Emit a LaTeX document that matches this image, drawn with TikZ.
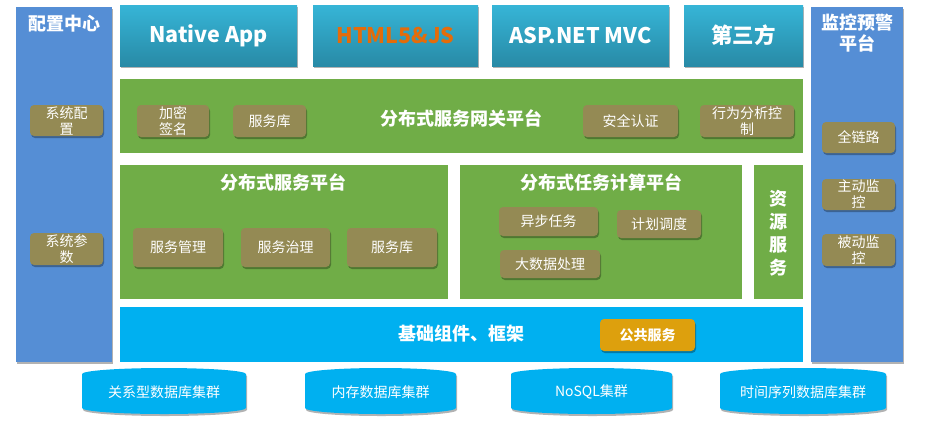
\documentclass[tikz,border=0pt]{standalone}
\usepackage{fontspec}
\setmainfont{Noto Sans CJK SC}
\usetikzlibrary{shadows}

\definecolor{sideblue}{RGB}{85,142,213}
\definecolor{platgreen}{RGB}{112,173,71}
\definecolor{itemolive}{RGB}{148,138,84}
\definecolor{basecyan}{RGB}{0,176,240}
\definecolor{pubamber}{RGB}{221,160,13}
\definecolor{btntop}{RGB}{54,181,215}
\definecolor{btnbot}{RGB}{40,138,166}
\definecolor{htmlorange}{RGB}{228,108,10}

\newcommand*{\xmax}{928}
\newcommand*{\ymax}{432}

\begin{document}
\begin{tikzpicture}
[
	x=1pt,y=-1pt,
	shade/.style={drop shadow={shadow xshift=1pt,shadow yshift=-2pt,opacity=0.3,fill=black}},
	sidecol/.style={rectangle,fill=sideblue,inner sep=0pt,shade},
	topbtn/.style={rectangle,top color=btntop,bottom color=btnbot,inner sep=0pt,minimum height=61pt,text=white,font=\fontsize{21.5}{25}\selectfont\bfseries,shade},
	platform/.style={rectangle,fill=platgreen,inner sep=0pt},
	titletext/.style={text=white,font=\fontsize{18}{21}\selectfont\bfseries,align=center,inner sep=0pt},
	itembox/.style={rectangle,rounded corners=4pt,fill=itemolive,inner sep=0pt,text=white,font=\fontsize{14}{16}\selectfont,align=center,shade},
	dbcyl/.style={fill=basecyan,shade},
	dbtext/.style={text=white,font=\fontsize{14}{16}\selectfont,inner sep=0pt}
]

	\useasboundingbox (0,0) rectangle (\xmax,\ymax);

	% config centre
	\node[sidecol,minimum width=96pt,minimum height=355pt] (cfg) at (64,184.5) {};
	\node[titletext] (cfgtitle) at (64,24) {配置中心};
	\node[itembox,minimum width=73pt,minimum height=31pt] (syscfg) at (66.5,120.5) {系统配\\置};
	\node[itembox,minimum width=73pt,minimum height=32pt] (sysparam) at (66.5,249) {系统参\\数};

	% monitor platform
	\node[sidecol,minimum width=92pt,minimum height=355pt] (mon) at (857,184.5) {};
	\node[titletext] (montitle) at (857,33) {监控预警\\平台};
	\node[itembox,minimum width=73pt,minimum height=31pt] (trace) at (858.5,137.5) {全链路};
	\node[itembox,minimum width=73pt,minimum height=31pt] (active) at (858.5,194.5) {主动监\\控};
	\node[itembox,minimum width=73pt,minimum height=32pt] (passive) at (858.5,250) {被动监\\控};

	% clients
	\node[topbtn,minimum width=177pt] (native) at (208.5,35.5) {Native App};
	\node[topbtn,minimum width=165pt,text=htmlorange] (html) at (395.5,35.5) {HTML5\&JS};
	\node[topbtn,minimum width=177pt] (aspnet) at (580.5,35.5) {ASP.NET MVC};
	\node[topbtn,minimum width=119pt] (third) at (743.5,35.5) {第三方};

	% gateway
	\node[platform,minimum width=683pt,minimum height=74pt] (gw) at (461.5,116) {};
	\node[titletext] (gwtitle) at (461,118) {分布式服务网关平台};
	\node[itembox,minimum width=72pt,minimum height=32pt] (sign) at (173,121) {加密\\签名};
	\node[itembox,minimum width=73pt,minimum height=32pt] (gwlib) at (269.5,121) {服务库};
	\node[itembox,minimum width=95pt,minimum height=32pt] (auth) at (630.5,121) {安全认证};
	\node[itembox,minimum width=94pt,minimum height=32pt] (behav) at (747,121) {行为分析控\\制};

	% service platform
	\node[platform,minimum width=328pt,minimum height=134pt] (svc) at (284,232) {};
	\node[titletext] (svctitle) at (283,182) {分布式服务平台};
	\node[itembox,minimum width=90pt,minimum height=39pt] (svcmgr) at (178,247.5) {服务管理};
	\node[itembox,minimum width=89pt,minimum height=39pt] (svcgov) at (285.5,247.5) {服务治理};
	\node[itembox,minimum width=90pt,minimum height=39pt] (svclib) at (392,247.5) {服务库};

	% task platform
	\node[platform,minimum width=282pt,minimum height=134pt] (task) at (601,232) {};
	\node[titletext] (tasktitle) at (601,182) {分布式任务计算平台};
	\node[itembox,minimum width=99pt,minimum height=29pt] (async) at (548.5,221.5) {异步任务};
	\node[itembox,minimum width=84pt,minimum height=28pt] (sched) at (659,224) {计划调度};
	\node[itembox,minimum width=100pt,minimum height=28pt] (bigdata) at (550,264) {大数据处理};

	% resource service
	\node[platform,minimum width=49pt,minimum height=134pt] (res) at (778.5,232) {};
	\node[titletext,font=\fontsize{18}{23}\selectfont\bfseries] (restitle) at (778,233) {资\\源\\服\\务};

	% base
	\node[rectangle,fill=basecyan,inner sep=0pt,minimum width=683pt,minimum height=55pt] (base) at (461.5,334.5) {};
	\node[titletext] (basetitle) at (461.5,334) {基础组件、框架};
	\node[itembox,fill=pubamber,font=\fontsize{14}{16}\selectfont\bfseries,minimum width=95pt,minimum height=32pt] (pub) at (647.5,335) {公共服务};

	% storage
	\foreach \cx/\w/\nm/\txt in {164/164/dbrel/关系型数据库集群,380.5/151/dbmem/内存数据库集群,591.5/161/dbnosql/NoSQL集群,803/166/dbts/时间序列数据库集群} {
		\path[dbcyl] (\cx-\w/2,374) arc (180:360:\w/2 and 6) -- (\cx+\w/2,408) arc (0:180:\w/2 and 6) -- cycle;
		\node[dbtext] (\nm) at (\cx,392) {\txt};
	}

\end{tikzpicture}
\end{document}
